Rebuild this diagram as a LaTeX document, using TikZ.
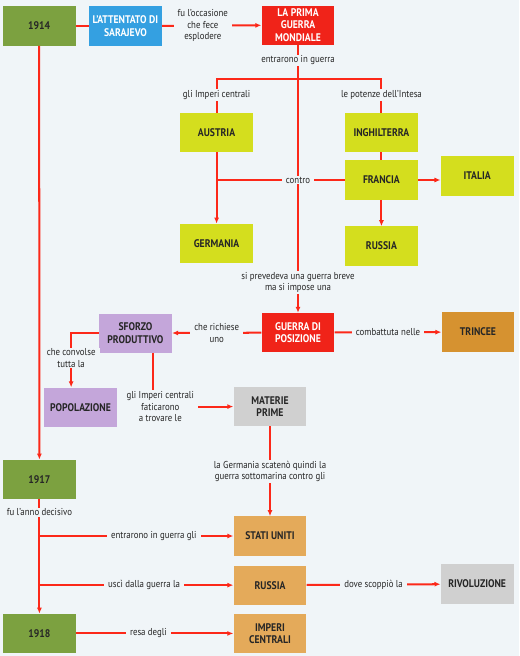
\documentclass[tikz,border=0pt]{standalone}
\usepackage{fontspec}
\setmainfont{PT Sans}[FakeStretch=0.88]
\usetikzlibrary{arrows.meta}

\definecolor{bgpage}{RGB}{240,245,248}
\definecolor{lnred}{RGB}{252,40,25}
\definecolor{yeargreen}{RGB}{124,161,64}
\definecolor{skyblue}{RGB}{52,160,225}
\definecolor{warred}{RGB}{240,35,25}
\definecolor{landyellow}{RGB}{212,222,30}
\definecolor{lilac}{RGB}{196,166,218}
\definecolor{trenchbrown}{RGB}{214,146,48}
\definecolor{sand}{RGB}{228,170,90}
\definecolor{stone}{RGB}{208,208,208}

\begin{document}
\begin{tikzpicture}[>={Latex[length=6pt,width=5pt]},
 box/.style={align=center, minimum width=2.55cm, minimum height=1.37cm, inner sep=2pt,
 font=\fontsize{11}{12.5}\selectfont\bfseries, text=black!85},
 lbl/.style={fill=bgpage, align=center, inner xsep=4pt, inner ysep=1pt,
 font=\fontsize{10}{11.5}\selectfont, text=black!85},
 line/.style={lnred, line width=2pt},
 edge/.style={->, lnred, line width=2pt}]
\fill[bgpage] (0,0) rectangle (18.17,-22.96);
% top row
\node[box, fill=yeargreen] (y1914) at (1.37,-0.91) {1914};
\node[box, fill=skyblue, text=white] (attentato) at (4.39,-0.91) {L'ATTENTATO DI\\SARAJEVO};
\node[box, fill=warred, text=white] (prima) at (10.43,-0.88) {LA PRIMA\\GUERRA\\MONDIALE};
% the two sides
\node[box, fill=landyellow] (austria) at (7.58,-4.64) {AUSTRIA};
\node[box, fill=landyellow] (germania) at (7.58,-8.52) {GERMANIA};
\node[box, fill=landyellow] (inghilterra) at (13.35,-4.64) {INGHILTERRA};
\node[box, fill=landyellow] (francia) at (13.35,-6.30) {FRANCIA};
\node[box, fill=landyellow] (italia) at (16.70,-6.16) {ITALIA};
\node[box, fill=landyellow] (russia) at (13.35,-8.61) {RUSSIA};
% war of position
\node[box, fill=warred, text=white] (guerra) at (10.43,-11.64) {GUERRA DI\\POSIZIONE};
\node[box, fill=lilac] (sforzo) at (4.74,-11.66) {SFORZO\\PRODUTTIVO};
\node[box, fill=trenchbrown] (trincee) at (16.73,-11.62) {TRINCEE};
\node[box, fill=lilac] (popolazione) at (2.82,-14.25) {POPOLAZIONE};
\node[box, fill=stone] (materie) at (9.45,-14.23) {MATERIE\\PRIME};
% 1917 - 1918
\node[box, fill=yeargreen] (y1917) at (1.38,-16.78) {1917};
\node[box, fill=sand] (stati) at (9.45,-18.76) {STATI UNITI};
\node[box, fill=sand] (russiab) at (9.45,-20.48) {RUSSIA};
\node[box, fill=stone] (rivoluzione) at (16.70,-20.44) {RIVOLUZIONE};
\node[box, fill=yeargreen] (y1918) at (1.38,-22.17) {1918};
\node[box, fill=sand] (imperi) at (9.45,-22.17) {IMPERI\\CENTRALI};

\coordinate (fork) at (10.43,-2.77);
\draw[line] (y1914) -- (attentato);
\draw[edge] (attentato) -- node[lbl,pos=.41]{fu l'occasione\\che fece\\esplodere} (prima);
\draw[edge] (prima) -- node[lbl,pos=.057]{entrarono in guerra}
 node[lbl,pos=.887]{si prevedeva una guerra breve\\ma si impose una} (guerra);
\draw[line] (fork) -| node[lbl,pos=.735]{gli Imperi centrali} (austria);
\draw[line] (fork) -| node[lbl,pos=.735]{le potenze dell'Intesa} (inghilterra);
\draw[edge] (austria) -- (germania);
\draw[line] (inghilterra) -- (francia);
\draw[edge] (francia) -- (francia -| italia.west);
\draw[edge] (francia) -- (russia);
\draw[line] (austria |- francia) -- node[lbl,pos=.635]{contro} (francia);
\draw[edge] (guerra) -- node[lbl]{che richiese\\uno} (sforzo);
\draw[edge] (guerra) -- node[lbl]{combattuta nelle} (trincee);
\draw[edge] (sforzo.west) -| node[lbl,pos=.73]{che convolse\\tutta la} ([xshift=-0.33cm]popolazione.north);
\draw[edge] ([xshift=0.62cm]sforzo.south) |- node[lbl,xshift=0.25cm]{gli Imperi centrali\\faticarono\\a trovare le} (materie);
\draw[edge] (materie) -- node[lbl]{la Germania scatenò quindi la\\guerra sottomarina contro gli} (stati);
\draw[edge] (y1914) -- (y1917);
\draw[edge] (y1917) -- node[lbl,pos=.114]{fu l'anno decisivo} (y1918);
\draw[edge] (y1917 |- stati) -- node[lbl,pos=.59]{entrarono in guerra gli} (stati);
\draw[edge] (y1917 |- russiab) -- node[lbl,pos=.54]{uscì dalla guerra la} (russiab);
\draw[edge] (russiab) -- node[lbl]{dove scoppiò la} (rivoluzione);
\draw[edge] (y1918) -- node[lbl,pos=.46]{resa degli} (imperi);
\end{tikzpicture}
\end{document}
